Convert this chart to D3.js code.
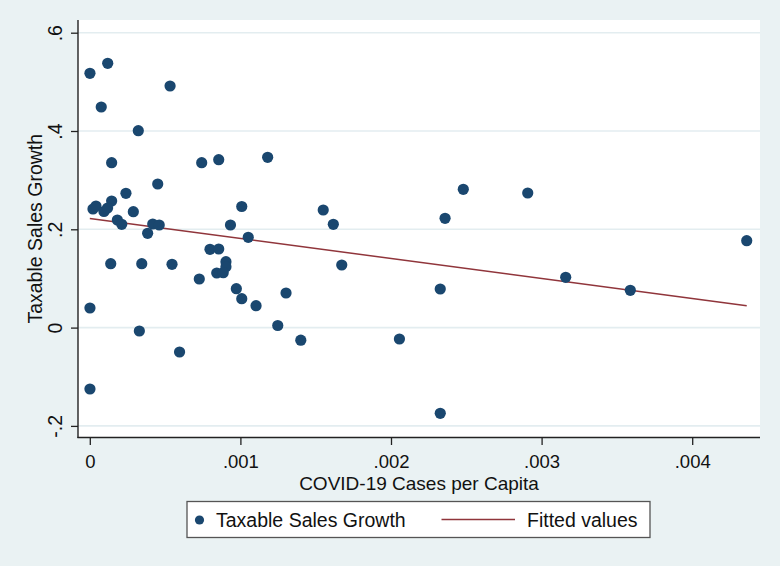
<!DOCTYPE html>
<html>
<head>
<meta charset="utf-8">
<script src="https://cdn.jsdelivr.net/npm/d3@7"></script>
<style>
  html, body { margin: 0; padding: 0; background: #eaf2f3; }
  svg { display: block; }
  text { font-family: "Liberation Sans", Arial, sans-serif; fill: #111; }
</style>
</head>
<body>
<svg id="chart" width="780" height="566"></svg>
<script>
// ---- Data ----
const casesPerCapita = [
  0.000001, 0.000119, 0.000076, 0.000533, 0.000322, 0.000145, 0.000743, 0.000856,
  0.001181, 0.000451, 0.000240, 0.001009, 0.000021, 0.000041, 0.000145, 0.000094,
  0.000118, 0.000289, 0.000183, 0.000212, 0.000418, 0.000461, 0.000384, 0.000934,
  0.001052, 0.000798, 0.000856, 0.000139, 0.000345, 0.000546, 0.000904, 0.000904,
  0.000843, 0.000886, 0.000727, 0.000973, 0.001009, 0.001104, 0.001303, 0.000001,
  0.001248, 0.000329, 0.001401, 0.000596, 0.000001, 0.001550, 0.001617, 0.001673,
  0.002056, 0.002480, 0.002908, 0.002359, 0.004362, 0.003160, 0.003589, 0.002327,
  0.002327
];
const salesGrowth = [
  0.5174, 0.5377, 0.4488, 0.4916, 0.4006, 0.3355, 0.3355, 0.3416,
  0.3465, 0.2922, 0.2732, 0.2464, 0.2413, 0.2474, 0.2576, 0.2362,
  0.2433, 0.2358, 0.2189, 0.2102, 0.2108, 0.2087, 0.1919, 0.2087,
  0.1837, 0.1593, 0.1599, 0.1300, 0.1300, 0.1288, 0.1341, 0.1239,
  0.1111, 0.1117, 0.0989, 0.0791, 0.0588, 0.0446, 0.0704, 0.0399,
  0.0043, -0.0069, -0.0256, -0.0496, -0.1249, 0.2393, 0.2102, 0.1274,
  -0.0232, 0.2814, 0.2739, 0.2224, 0.1768, 0.1023, 0.0759, 0.0785,
  -0.1744
];
// Fitted line endpoints
const fitX = [0.0, 0.004362];
const fitY = [0.2222, 0.0443];

const xTicks = [0, 0.001, 0.002, 0.003, 0.004];
const yTicks = [-0.2, 0, 0.2, 0.4, 0.6];
const xTickLabels = ["0", ".001", ".002", ".003", ".004"];
const yTickLabels = ["-.2", "0", ".2", ".4", ".6"];

const seriesName = "Taxable Sales Growth";
const fitName = "Fitted values";
const xTitle = "COVID-19 Cases per Capita";
const yTitle = "Taxable Sales Growth";

// ---- Layout ----
const plot = { left: 78, right: 760, top: 20, bottom: 437.5 };
const navy = "#1a476f";
const maroon = "#90353b";
const fontSize = 19.5;
const tickFont = 18.5;

const svg = d3.select("#chart");
svg.append("rect").attr("x", 0).attr("y", 0).attr("width", 780).attr("height", 566).attr("fill", "#eaf2f3");

const x = d3.scaleLinear().domain([0, 0.004]).range([89.8, 692.2]);
const y = d3.scaleLinear().domain([-0.2, 0.6]).range([425.9, 32.7]);

// plot region
svg.append("rect")
  .attr("x", plot.left).attr("y", plot.top)
  .attr("width", plot.right - plot.left).attr("height", plot.bottom - plot.top)
  .attr("fill", "#ffffff");

// gridlines
svg.append("g").selectAll("line").data(yTicks).join("line")
  .attr("x1", plot.left).attr("x2", plot.right)
  .attr("y1", d => y(d)).attr("y2", d => y(d))
  .attr("stroke", "#e3edf0").attr("stroke-width", 1.6);

// Y axis
const yAxis = d3.axisLeft(y).tickValues(yTicks).tickSize(7).tickPadding(0)
  .tickFormat((d, i) => yTickLabels[i]);
const gy = svg.append("g").attr("transform", `translate(${plot.left},0)`).call(yAxis);
gy.select(".domain").remove();
gy.selectAll(".tick line").attr("stroke", "#222").attr("stroke-width", 1.3);
gy.selectAll(".tick text")
  .attr("x", null).attr("dy", null)
  .attr("transform", `translate(${62 - plot.left},0) rotate(-90)`)
  .attr("text-anchor", "middle")
  .style("font-size", fontSize + "px")
  .style("font-family", "'Liberation Sans', Arial, sans-serif")
  .attr("fill", "#111");

// X axis
const xAxis = d3.axisBottom(x).tickValues(xTicks).tickSize(7.5).tickPadding(0)
  .tickFormat((d, i) => xTickLabels[i]);
const gx = svg.append("g").attr("transform", `translate(0,${plot.bottom})`).call(xAxis);
gx.select(".domain").remove();
gx.selectAll(".tick line").attr("stroke", "#222").attr("stroke-width", 1.3);
gx.selectAll(".tick text")
  .attr("y", 468 - plot.bottom).attr("dy", null)
  .style("font-size", tickFont + "px")
  .style("font-family", "'Liberation Sans', Arial, sans-serif")
  .attr("fill", "#111");

// axis lines
svg.append("line").attr("x1", plot.left).attr("x2", plot.left)
  .attr("y1", plot.top).attr("y2", plot.bottom + 0.6)
  .attr("stroke", "#222").attr("stroke-width", 1.4);
svg.append("line").attr("x1", plot.left - 0.6).attr("x2", plot.right)
  .attr("y1", plot.bottom).attr("y2", plot.bottom)
  .attr("stroke", "#222").attr("stroke-width", 1.4);

// fitted line
const fitData = fitX.map((v, i) => [v, fitY[i]]);
svg.append("path").datum(fitData)
  .attr("d", d3.line().x(d => x(d[0])).y(d => y(d[1])))
  .attr("fill", "none").attr("stroke", maroon).attr("stroke-width", 1.5);

// points
const pts = casesPerCapita.map((v, i) => ({ x: v, y: salesGrowth[i] }));
svg.append("g").selectAll("circle").data(pts).join("circle")
  .attr("cx", d => x(d.x)).attr("cy", d => y(d.y)).attr("r", 5.6)
  .attr("fill", navy);

// titles
svg.append("text").attr("x", (plot.left + plot.right) / 2).attr("y", 490)
  .attr("text-anchor", "middle").style("font-size", "19px").text(xTitle);
svg.append("text").attr("transform", `translate(42,${(plot.top + plot.bottom) / 2}) rotate(-90)`)
  .attr("text-anchor", "middle").style("font-size", fontSize + "px").text(yTitle);

// legend
const lg = svg.append("g");
lg.append("rect").attr("x", 187).attr("y", 501.5).attr("width", 463).attr("height", 36)
  .attr("fill", "#ffffff").attr("stroke", "#555").attr("stroke-width", 1.3);
lg.append("circle").attr("cx", 199.5).attr("cy", 520).attr("r", 4.6).attr("fill", navy);
lg.append("text").attr("x", 216).attr("y", 527).style("font-size", fontSize + "px").text(seriesName);
lg.append("line").attr("x1", 441.5).attr("x2", 515).attr("y1", 519.5).attr("y2", 519.5)
  .attr("stroke", maroon).attr("stroke-width", 1.5);
lg.append("text").attr("x", 527).attr("y", 527).style("font-size", fontSize + "px").text(fitName);
</script>
</body>
</html>
